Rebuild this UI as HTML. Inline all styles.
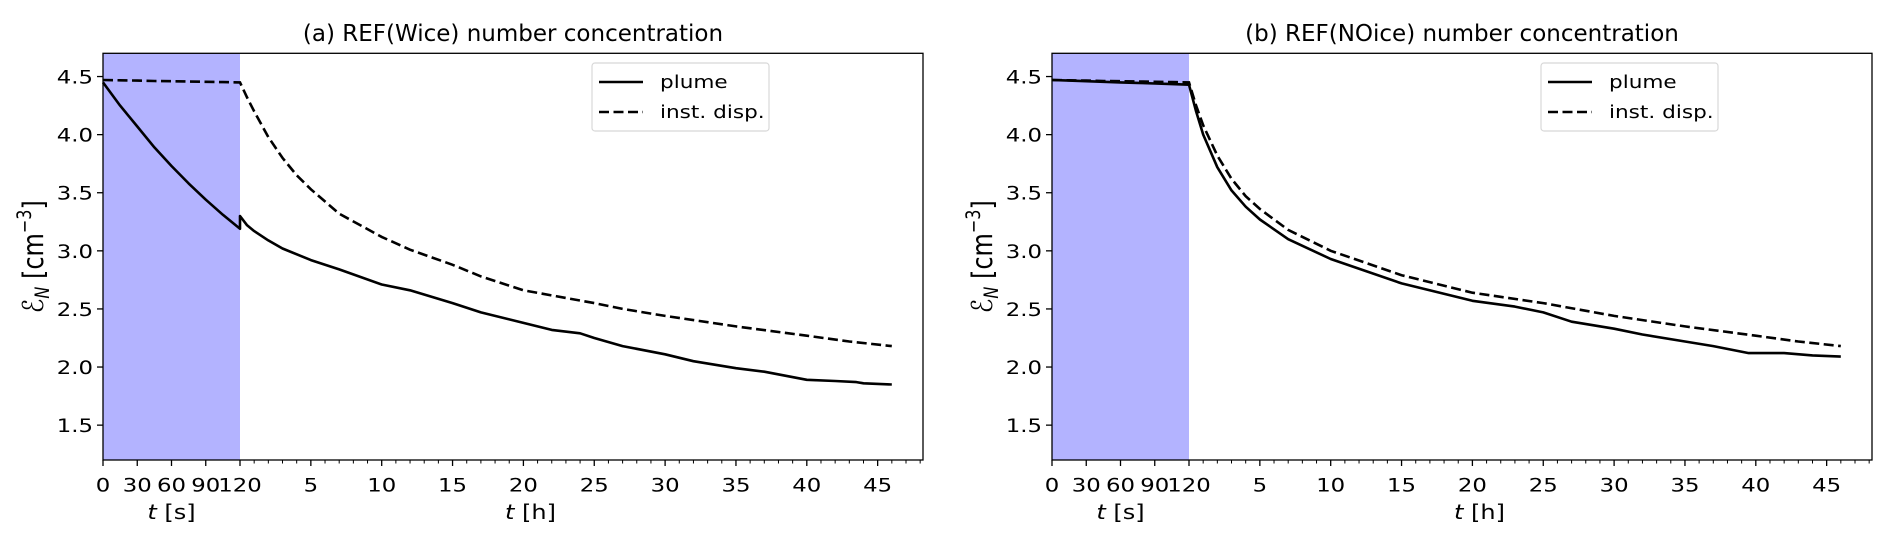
<!DOCTYPE html>
<html><head><meta charset="utf-8">
<style>
html,body{margin:0;padding:0;background:#fff;}
svg{display:block;font-family:"DejaVu Sans","Liberation Sans",sans-serif;}
</style></head>
<body>
<svg id="fig" width="1892" height="545" viewBox="0 0 1892 545" xmlns="http://www.w3.org/2000/svg"></svg>
<script>
// ---- data ----
const secTicks = [0, 30, 60, 90, 120];
const secTimes = [0, 15, 30, 45, 60, 75, 90, 105, 120];
const hourTicks = [5, 10, 15, 20, 25, 30, 35, 40, 45];
const yTicks = [1.5, 2.0, 2.5, 3.0, 3.5, 4.0, 4.5];
const titles = ["(a) REF(Wice) number concentration", "(b) REF(NOice) number concentration"];

const aPlumeSec = [4.45, 4.25, 4.07, 3.89, 3.73, 3.58, 3.44, 3.31, 3.19];
const aDispSec = [4.47, 4.468, 4.465, 4.462, 4.46, 4.457, 4.455, 4.452, 4.45];
const aPlumeHours = [0, 0.5, 1, 2, 3, 5, 7, 10, 12, 15, 17, 20, 22, 24, 25, 27, 30, 32, 35, 37, 40, 42, 43.5, 44, 46];
const aPlumeVals = [3.3, 3.22, 3.17, 3.09, 3.02, 2.92, 2.84, 2.71, 2.66, 2.55, 2.47, 2.38, 2.32, 2.29, 2.25, 2.18, 2.11, 2.05, 1.99, 1.96, 1.89, 1.88, 1.87, 1.86, 1.85];
const aDispHours = [0, 0.5, 1, 2, 3, 4, 5, 7, 10, 12, 15, 17, 20, 25, 27, 30, 35, 40, 43, 46];
const aDispVals = [4.45, 4.32, 4.2, 3.98, 3.8, 3.65, 3.53, 3.32, 3.12, 3.01, 2.88, 2.78, 2.66, 2.55, 2.5, 2.44, 2.35, 2.27, 2.22, 2.18];

const bPlumeSec = [4.47, 4.465, 4.46, 4.455, 4.45, 4.445, 4.44, 4.435, 4.43];
const bDispSec = [4.47, 4.468, 4.465, 4.462, 4.46, 4.457, 4.455, 4.452, 4.45];
const bPlumeHours = [0, 0.5, 1, 2, 3, 4, 5, 7, 10, 15, 20, 23, 25, 27, 30, 32, 35, 37, 39.5, 42, 44, 46];
const bPlumeVals = [4.43, 4.2, 4.0, 3.72, 3.52, 3.38, 3.27, 3.1, 2.93, 2.72, 2.57, 2.52, 2.47, 2.39, 2.33, 2.28, 2.22, 2.18, 2.12, 2.12, 2.1, 2.09];
const bDispHours = [0, 0.5, 1, 2, 3, 4, 5, 7, 10, 15, 20, 25, 30, 35, 40, 43, 46];
const bDispVals = [4.45, 4.25, 4.08, 3.82, 3.62, 3.47, 3.36, 3.18, 3.0, 2.79, 2.64, 2.55, 2.44, 2.35, 2.27, 2.22, 2.18];

const NS = "http://www.w3.org/2000/svg";
const svg = document.getElementById('fig');
const SX = 1.2;
function mk(tag, attrs, parent) {
  const e = document.createElementNS(NS, tag);
  for (const k in attrs) e.setAttribute(k, attrs[k]);
  (parent || svg).appendChild(e);
  return e;
}
function txt(parent, x, y, str, size, anchor, html) {
  const t = mk('text', {x: (x / SX).toFixed(2), y: y, 'font-size': size, 'text-anchor': anchor || 'start', transform: `scale(${SX},1)`}, parent);
  if (html) t.innerHTML = str; else t.textContent = str;
  return t;
}

const Y0 = 53.3, Y1 = 460, YMIN = 1.2, YMAX = 4.7;
const SECW = 137, HMAX = 48.2;

function panel(idx, left, right, plumeSec, dispSec, plumeH, plumeV, dispH, dispV) {
  const g = mk('g', {});
  
  
  const xs = s => left + s / 120 * SECW;
  const hx0 = left + SECW;
  const xh = h => hx0 + h / HMAX * (right - hx0);
  const y = v => Y1 - (v - YMIN) / (YMAX - YMIN) * (Y1 - Y0);

  const shade = mk('rect', {x: left, y: Y0, width: SECW, height: Y1 - Y0, fill: '#b3b3ff'}, g);
  
  

  yTicks.forEach(v => {
    mk('line', {x1: left - 6, x2: left, y1: y(v), y2: y(v), stroke: '#000', 'stroke-width': 1.3}, g);
    const t = txt(g, left - 10, y(v) + 7, v.toFixed(1), 19, 'end');
    
    
  });
  secTicks.forEach(s => {
    mk('line', {x1: xs(s), x2: xs(s), y1: Y1, y2: Y1 + 6, stroke: '#000', 'stroke-width': 1.3}, g);
    const t = txt(g, xs(s), Y1 + 31.5, String(s), 19, 'middle');
    
    
  });
  for (let h = 1; h <= 48; h++) {
    if (h % 5 === 0) continue;
    mk('line', {x1: xh(h), x2: xh(h), y1: Y1, y2: Y1 + 3.5, stroke: '#000', 'stroke-width': 1}, g);
  }
  hourTicks.forEach(h => {
    mk('line', {x1: xh(h), x2: xh(h), y1: Y1, y2: Y1 + 6, stroke: '#000', 'stroke-width': 1.3}, g);
    const t = txt(g, xh(h), Y1 + 31.5, String(h), 19, 'middle');
    
    
  });
  const xs1 = txt(g, xs(60), Y1 + 59, '<tspan font-style="italic">t</tspan> [s]', 20, 'middle', true);
  
  
  const xh1 = txt(g, xh(20.5), Y1 + 59, '<tspan font-style="italic">t</tspan> [h]', 20, 'middle', true);
  
  
  const yl = mk('text', {x: 0, y: 0, 'text-anchor': 'middle', 'font-size': 24, transform: `translate(${left - 60},${(Y0 + Y1) / 2}) rotate(-90) scale(1,${SX})`}, g);
  yl.innerHTML = '<tspan font-style="italic">ℰ</tspan><tspan font-size="16" dy="5" font-style="italic">N</tspan><tspan dy="-5"> [cm</tspan><tspan font-size="16" dy="-10">−3</tspan><tspan dy="10">]</tspan>';
  
  
  const tt = mk('text', {x: ((left + right) / 2).toFixed(1), y: 41, 'text-anchor': 'middle', 'font-size': 23}, g);
  tt.textContent = titles[idx];
  
  

  function pts(secV, hs, vs) {
    const p = secTimes.map((s, i) => xs(s).toFixed(1) + ',' + y(secV[i]).toFixed(1));
    hs.forEach((h, i) => p.push(xh(h).toFixed(1) + ',' + y(vs[i]).toFixed(1)));
    return p.join(' ');
  }
  const pl = mk('polyline', {points: pts(plumeSec, plumeH, plumeV), fill: 'none', stroke: '#000', 'stroke-width': 2.6, 'stroke-linejoin': 'round'}, g);
  
  
  const dl = mk('polyline', {points: pts(dispSec, dispH, dispV), fill: 'none', stroke: '#000', 'stroke-width': 2.6, 'stroke-dasharray': '10,4.5'}, g);
  
  

  mk('rect', {x: left, y: Y0, width: right - left, height: Y1 - Y0, fill: 'none', stroke: '#000', 'stroke-width': 1.3}, g);

  const lx = right - 331;
  const lg = mk('g', {}, g);
  
  
  mk('rect', {x: lx, y: 63, width: 177, height: 68, rx: 3, fill: '#fff', stroke: '#d8d8d8', 'stroke-width': 1.2}, lg);
  mk('line', {x1: lx + 7, x2: lx + 51, y1: 82, y2: 82, stroke: '#000', 'stroke-width': 2.6}, lg);
  mk('line', {x1: lx + 7, x2: lx + 51, y1: 112, y2: 112, stroke: '#000', 'stroke-width': 2.6, 'stroke-dasharray': '10,4.5'}, lg);
  const t1 = txt(lg, lx + 68, 88, 'plume', 18, 'start');
  
  
  const t2 = txt(lg, lx + 68, 118, 'inst. disp.', 18, 'start');
  
  
}

panel(0, 103, 923, aPlumeSec, aDispSec, aPlumeHours, aPlumeVals, aDispHours, aDispVals);
panel(1, 1052, 1872, bPlumeSec, bDispSec, bPlumeHours, bPlumeVals, bDispHours, bDispVals);
</script>
</body></html>
